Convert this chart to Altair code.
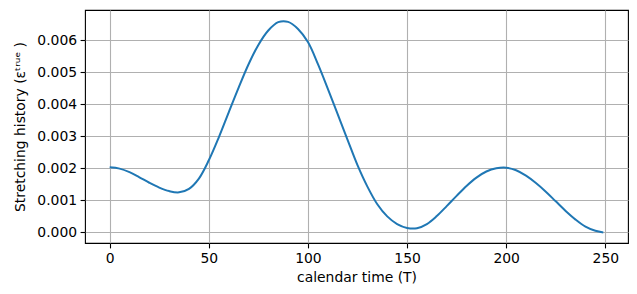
import altair as alt
import pandas as pd

t_vals = [0, 5, 10, 15, 20, 25, 30, 35, 40, 45, 50, 55, 60, 65, 70, 75, 80, 85, 90, 95, 100,
          105, 110, 115, 120, 125, 130, 135, 140, 145, 150, 155, 160, 165, 170, 175, 180, 185,
          190, 195, 200, 205, 210, 215, 220, 225, 230, 235, 240, 245, 249]
eps_vals = [0.00203, 0.00199, 0.00188, 0.00172, 0.00155, 0.00140, 0.00129, 0.00125, 0.00136, 0.00168,
            0.00225, 0.00296, 0.00374, 0.00451, 0.00524, 0.00585, 0.00630, 0.00656, 0.00657, 0.00635,
            0.00594, 0.00526, 0.00449, 0.00369, 0.00289, 0.00210, 0.00143, 0.00088, 0.00050, 0.00026,
            0.00014, 0.00013, 0.00026, 0.00051, 0.00082, 0.00114, 0.00145, 0.00171, 0.00190, 0.00200,
            0.00202, 0.00194, 0.00177, 0.00154, 0.00127, 0.00097, 0.00067, 0.00040, 0.00018, 0.00005,
            0.00000]
x_ticks = [0, 50, 100, 150, 200, 250]
y_ticks = [0.000, 0.001, 0.002, 0.003, 0.004, 0.005, 0.006]

df = pd.DataFrame({"t": t_vals, "eps": eps_vals})

chart = alt.Chart(df).mark_line(color="#1f77b4", strokeWidth=2, interpolate="catmull-rom").encode(
    x=alt.X("t:Q", scale=alt.Scale(domain=[-12.45, 261.45], nice=False, zero=False),
            axis=alt.Axis(values=x_ticks, title="calendar time (T)", format="d")),
    y=alt.Y("eps:Q", scale=alt.Scale(domain=[-0.00033, 0.00694], nice=False, zero=False),
            axis=alt.Axis(values=y_ticks, title="Stretching history (εᵗʳᵘᵉ )", format=".3f")),
).properties(
    width=543, height=233,
    autosize=alt.AutoSizeParams(type="none"),
    padding={"left": 85, "top": 10, "right": 9, "bottom": 51},
).configure_view(
    stroke="black", strokeWidth=1.1
).configure_axis(
    domain=False,
    grid=True, gridColor="#b0b0b0", gridWidth=1.1,
    tickColor="black", tickSize=4.9, tickWidth=1.1,
    labelFont="DejaVu Sans", labelFontSize=13.9, labelColor="black", labelPadding=3.5,
    titleFont="DejaVu Sans", titleFontSize=13.9, titleColor="black", titleFontWeight="normal",
).configure_axisX(
    titlePadding=5, labelFlush=False
).configure_axisY(
    titlePadding=9, labelFlush=False
)

chart.save("out.html", embed_options={"renderer": "svg", "actions": False})
